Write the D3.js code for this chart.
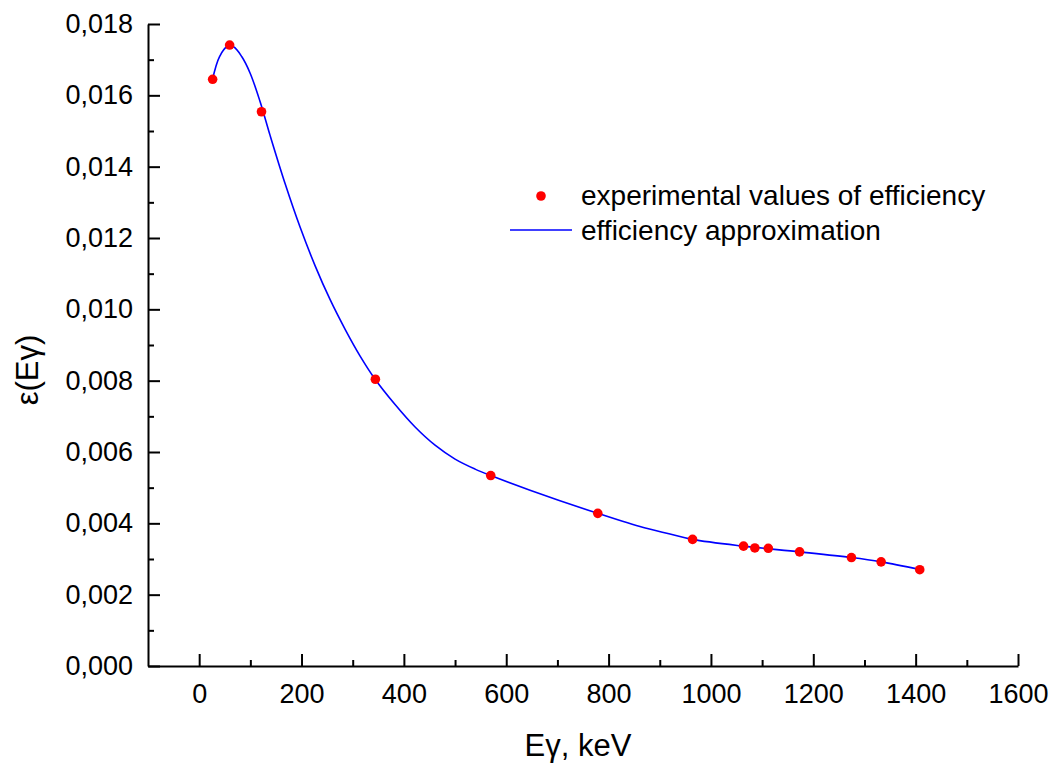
<!DOCTYPE html>
<html><head><meta charset="utf-8">
<script src="https://cdn.jsdelivr.net/npm/d3@7"></script>
<style>
html,body{margin:0;padding:0;background:#fff;}
svg{display:block;}
text{font-family:"Liberation Sans",Arial,sans-serif;fill:#000;}
</style></head>
<body>
<svg id="chart" width="1058" height="767"></svg>
<script>
// Experimental points
const energies = [26.3, 59.5, 121.8, 344.3, 569.7, 778.9, 964.1, 1063.7, 1085.8, 1112.1, 1173.2, 1274.5, 1332.5, 1408.0];
const efficiencies = [0.01645, 0.01741, 0.01554, 0.00804, 0.00534, 0.00428, 0.00355, 0.00336, 0.00331, 0.00330, 0.00320, 0.00304, 0.00292, 0.00270];
// Approximation curve
const fitE = [26, 39.6, 54.1, 67, 83.4, 99.6, 119.1, 138.7, 168.0, 197.3, 226.6, 255.9, 285.2, 314.5, 343.8, 382.8, 421.9, 460.9, 500.0, 539.1, 569.7, 646.5, 778.7, 861.3, 919.9, 963.5, 1063.9, 1173.8, 1274.8, 1332.6, 1408.2];
const fitEff = [0.01645, 0.01708, 0.01736, 0.01736, 0.01708, 0.01662, 0.01582, 0.01487, 0.01352, 0.01230, 0.01122, 0.01027, 0.00944, 0.00869, 0.00804, 0.00733, 0.00670, 0.00619, 0.00580, 0.00552, 0.00534, 0.00493, 0.00428, 0.00391, 0.00370, 0.00355, 0.00336, 0.00320, 0.00304, 0.00292, 0.00271];
const xMajor = [0, 200, 400, 600, 800, 1000, 1200, 1400, 1600];
const xMinor = [100, 300, 500, 700, 900, 1100, 1300, 1500];
const yMajor = [0, 0.002, 0.004, 0.006, 0.008, 0.010, 0.012, 0.014, 0.016, 0.018];
const yMinor = [0.001, 0.003, 0.005, 0.007, 0.009, 0.011, 0.013, 0.015, 0.017];
const legendLabels = ["experimental values of efficiency", "efficiency approximation"];

const svg = d3.select("#chart");
const x = d3.scaleLinear().domain([-100, 1600]).range([148, 1018]);
const y = d3.scaleLinear().domain([0, 0.018]).range([666, 24]);
const fmt = d => d.toFixed(3).replace(".", ",");

// X axis
const gx = svg.append("g").attr("transform", "translate(0,666)");
gx.call(d3.axisBottom(x).tickValues(xMajor).tickSize(-12).tickSizeOuter(0).tickPadding(18).tickFormat(d3.format("d")));
const gxm = svg.append("g").attr("transform", "translate(0,666)");
gxm.call(d3.axisBottom(x).tickValues(xMinor).tickSize(-6).tickSizeOuter(0).tickFormat(""));
gxm.select(".domain").remove();
// Y axis
const gy = svg.append("g").attr("transform", "translate(148,0)");
gy.call(d3.axisLeft(y).tickValues(yMajor).tickSize(-12).tickSizeOuter(0).tickPadding(15).tickFormat(fmt));
const gym = svg.append("g").attr("transform", "translate(148,0)");
gym.call(d3.axisLeft(y).tickValues(yMinor).tickSize(-6).tickSizeOuter(0).tickFormat(""));
gym.select(".domain").remove();

svg.selectAll(".domain").attr("stroke", "#000").attr("stroke-width", 2);
svg.selectAll(".tick line").attr("stroke", "#000").attr("stroke-width", 2);
svg.selectAll(".tick text").style("font-size", "27px").style("font-family", "'Liberation Sans', Arial, sans-serif").attr("fill", "#000");

// Curve
const fit = fitE.map((e, i) => [e, fitEff[i]]);
svg.append("path").datum(fit)
  .attr("fill", "none").attr("stroke", "#0000ff").attr("stroke-width", 1.6)
  .attr("d", d3.line().x(d => x(d[0])).y(d => y(d[1])).curve(d3.curveCatmullRom.alpha(0.5)));

// Points
svg.append("g").selectAll("circle").data(energies.map((e, i) => [e, efficiencies[i]]))
  .join("circle").attr("cx", d => x(d[0])).attr("cy", d => y(d[1])).attr("r", 4.8).attr("fill", "#ff0000");

// Legend
svg.append("circle").attr("cx", 541).attr("cy", 196).attr("r", 4.8).attr("fill", "#ff0000");
svg.append("text").attr("x", 581).attr("y", 205).style("font-size", "28px").text(legendLabels[0]);
svg.append("line").attr("x1", 510).attr("x2", 572).attr("y1", 230).attr("y2", 230).attr("stroke", "#0000ff").attr("stroke-width", 1.6);
svg.append("text").attr("x", 581).attr("y", 240).style("font-size", "28px").text(legendLabels[1]);

// Axis titles
svg.append("text").attr("x", 578).attr("y", 756).attr("text-anchor", "middle").style("font-size", "31px").text("Eγ, keV");
svg.append("text").attr("transform", "translate(38,370) rotate(-90)").attr("text-anchor", "middle").style("font-size", "31px").text("ε(Eγ)");
</script>
</body></html>
